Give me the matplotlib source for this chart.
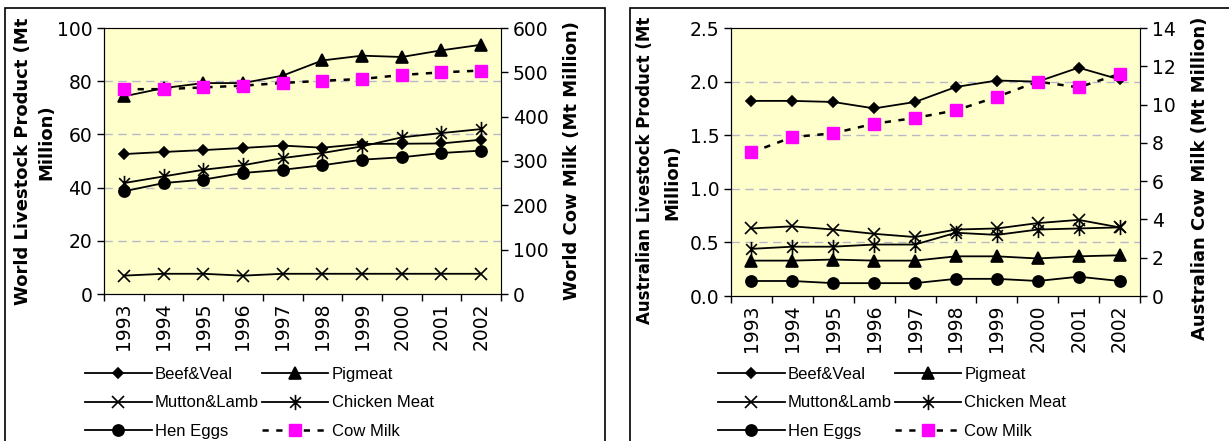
import matplotlib
matplotlib.use("Agg")
import matplotlib.pyplot as plt
from matplotlib.path import Path
from matplotlib.patches import Rectangle

plt.rcParams['font.family'] = ['Liberation Sans', 'DejaVu Sans']

years = ['1993', '1994', '1995', '1996', '1997', '1998', '1999', '2000', '2001', '2002']

# World (Mt million), cow milk on the right axis
world_beef = [52.6, 53.4, 54.1, 54.9, 55.8, 55.0, 56.4, 56.5, 56.6, 58.0]
world_pig = [74.3, 77.4, 79.3, 79.3, 82.1, 87.8, 89.6, 89.1, 91.6, 93.7]
world_mutton = [6.9, 7.6, 7.6, 6.9, 7.6, 7.6, 7.6, 7.6, 7.6, 7.6]
world_chicken = [41.7, 44.2, 46.7, 48.4, 51.1, 53.0, 55.5, 58.9, 60.5, 62.0]
world_eggs = [38.6, 41.7, 43.0, 45.5, 46.7, 48.4, 50.5, 51.4, 53.0, 53.9]
world_milk = [462, 462, 466, 470, 476, 481, 485, 494, 500, 504]

# Australia (Mt million), cow milk on the right axis
aus_beef = [1.82, 1.82, 1.81, 1.75, 1.81, 1.95, 2.01, 2.00, 2.13, 2.02]
aus_pig = [0.33, 0.33, 0.34, 0.33, 0.33, 0.37, 0.37, 0.35, 0.37, 0.38]
aus_mutton = [0.63, 0.65, 0.62, 0.58, 0.55, 0.62, 0.63, 0.68, 0.71, 0.64]
aus_chicken = [0.44, 0.46, 0.46, 0.48, 0.48, 0.59, 0.57, 0.62, 0.63, 0.64]
aus_eggs = [0.14, 0.14, 0.12, 0.12, 0.12, 0.16, 0.16, 0.14, 0.18, 0.14]
aus_milk = [7.5, 8.3, 8.5, 9.0, 9.3, 9.7, 10.4, 11.2, 10.9, 11.6]

# excel style "star" marker: an X with a vertical bar through it
star = Path([(0, -1), (0, 1), (-0.7, -0.7), (0.7, 0.7), (-0.7, 0.7), (0.7, -0.7)],
            [Path.MOVETO, Path.LINETO, Path.MOVETO, Path.LINETO, Path.MOVETO, Path.LINETO])

yellow = '#FFFFCC'
magenta = '#FF00FF'
tickfont = dict(family='DejaVu Sans', size=13.5)


def panel(fig, rect, series, milk, ylim, yticks, ylim2, yticks2, fmt, labels, leg_xy):
    ax = fig.add_axes(rect)
    ax.set_facecolor(yellow)
    x = list(range(len(years)))
    styles = [('D', 5.5), ('^', 8), ('x', 9), (star, 11), ('o', 8)]
    handles = []
    for (vals, name), (m, ms) in zip(series, styles):
        h, = ax.plot(x, vals, color='black', lw=1.3, marker=m, markersize=ms,
                     markerfacecolor='black', markeredgecolor='black', markeredgewidth=1.2,
                     label=name, zorder=3)
        handles.append(h)

    ax.set_xlim(-0.5, len(years) - 0.5)
    ax.set_ylim(*ylim)
    ax.set_yticks(yticks)
    ax.set_yticklabels([fmt.format(v) for v in yticks], fontdict=tickfont)
    ax.set_xticks(x)
    ax.set_xticklabels(years, rotation=90, fontdict=tickfont)
    ax.set_xticks([i - 0.5 for i in range(len(years) + 1)], minor=True)
    ax.tick_params(axis='x', which='major', length=0, pad=6)
    ax.tick_params(axis='x', which='minor', length=5, direction='out', width=1)
    ax.tick_params(axis='y', length=5, direction='out', width=1)
    for t in yticks[1:-1]:
        ax.axhline(t, color='#B8B8C8', lw=1, dashes=(6, 4), zorder=1)
    ax.spines['top'].set_color('#808080')
    ax.spines['right'].set_color('#808080')

    ax2 = ax.twinx()
    ax2.set_ylim(*ylim2)
    ax2.set_yticks(yticks2)
    ax2.set_yticklabels([str(v) for v in yticks2], fontdict=tickfont)
    ax2.tick_params(axis='y', length=5, direction='out', width=1)
    hm, = ax2.plot(x, milk, color='black', lw=1.8, dashes=(2.5, 3), marker='s',
                   markersize=8, markerfacecolor=magenta, markeredgecolor=magenta,
                   label='Cow Milk', zorder=4)
    handles.append(hm)

    # axis titles, placed line by line like the excel original
    for text, tx, ty, size in labels:
        ax.text(tx, ty, text, transform=ax.transAxes, rotation=90, ha='center', va='center',
                family='DejaVu Sans', fontsize=size, fontweight='bold')

    order = [0, 2, 4, 1, 3, 5]
    fig.legend([handles[i] for i in order], [handles[i].get_label() for i in order],
               ncol=2, loc='upper left', bbox_to_anchor=leg_xy, frameon=False,
               fontsize=12, handlelength=4.0, handletextpad=0.2, columnspacing=0.15,
               labelspacing=0.8, borderpad=0, borderaxespad=0)
    return ax, ax2


W, H = 1229, 441
fig = plt.figure(figsize=(W / 100, H / 100), dpi=100)

# panel frames
fig.patches.append(Rectangle((5 / W, -0.05), 600 / W, 1 - 8 / H + 0.05, transform=fig.transFigure,
                             fill=False, edgecolor='black', lw=1.2))
fig.patches.append(Rectangle((630 / W, -0.05), 1 - 630 / W + 0.05, 1 - 8 / H + 0.05,
                             transform=fig.transFigure, fill=False, edgecolor='black', lw=1.2))

world = [(world_beef, 'Beef&Veal'), (world_pig, 'Pigmeat'), (world_mutton, 'Mutton&Lamb'),
         (world_chicken, 'Chicken Meat'), (world_eggs, 'Hen Eggs')]
panel(fig, [104 / W, 1 - 294 / H, 397 / W, 266 / H], world, world_milk,
      (0, 100), [0, 20, 40, 60, 80, 100], (0, 600), [0, 100, 200, 300, 400, 500, 600], '{:.0f}',
      [('World Livestock Product (Mt', -0.205, 0.5, 13), ('Million)', -0.146, 0.57, 13),
       ('World Cow Milk (Mt Million)', 1.179, 0.5, 13)],
      (85 / W, 1 - 367 / H))

aus = [(aus_beef, 'Beef&Veal'), (aus_pig, 'Pigmeat'), (aus_mutton, 'Mutton&Lamb'),
       (aus_chicken, 'Chicken Meat'), (aus_eggs, 'Hen Eggs')]
panel(fig, [731 / W, 1 - 296 / H, 409 / W, 268 / H], aus, aus_milk,
      (0, 2.5), [0, 0.5, 1.0, 1.5, 2.0, 2.5], (0, 14), [0, 2, 4, 6, 8, 10, 12, 14], '{:.1f}',
      [('Australian Livestock Product (Mt', -0.21, 0.47, 12), ('Million)', -0.144, 0.425, 13),
       ('Australian Cow Milk (Mt Million)', 1.147, 0.44, 13)],
      (718 / W, 1 - 367 / H))

fig.savefig('out.png', dpi=100)
